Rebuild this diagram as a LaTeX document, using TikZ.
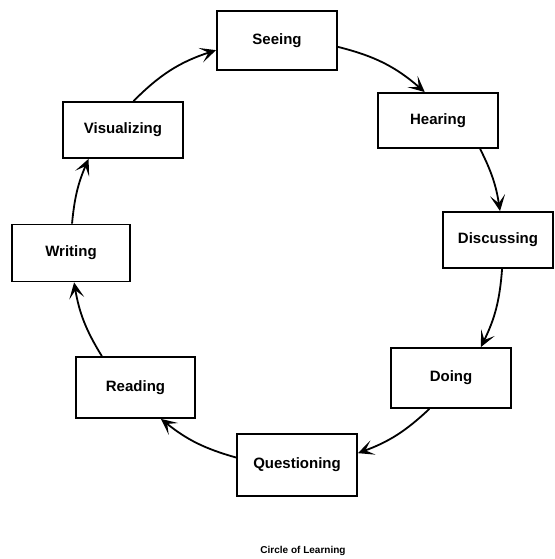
\documentclass[tikz,border=0pt]{standalone}
\usepackage{fontspec}
\setmainfont{Liberation Sans}
\usetikzlibrary{arrows.meta}
\begin{document}
\begin{tikzpicture}[x=1pt,y=1pt,
  box/.style={draw, line width=1.8pt, inner sep=0pt, minimum width=120pt, minimum height=58pt,
    font=\fontsize{15}{18}\selectfont\bfseries},
  arr/.style={line width=1.8pt, -{Stealth[length=16pt,width=15pt,inset=8pt]}},
  captiontext/.style={font=\fontsize{10}{12}\selectfont\bfseries}]
\useasboundingbox (0,0) rectangle (554,559);
\node[box, minimum height=59pt] (S) at (277,518.5) {Seeing};
\node[box, minimum height=55pt] (H) at (438,438.5) {Hearing};
\node[box, minimum width=110pt, minimum height=56pt] (Di) at (498,319) {Discussing};
\node[box, minimum height=60pt] (Do) at (451,181) {Doing};
\node[box, minimum height=62pt] (Q) at (297,94) {Questioning};
\node[box, minimum width=119pt, minimum height=61pt] (R) at (135.5,171.5) {Reading};
\node[box, minimum width=118pt, minimum height=57pt] (W) at (71,306) {Writing};
\node[box, minimum height=56pt] (V) at (123,429) {Visualizing};
\node[captiontext] (C) at (303,8) {Circle of Learning};
\draw[arr] (S.-6) to[bend left=13.5] (H.115);
\draw[arr] (H.-34.5) to[bend left=9] (Di.86);
\draw[arr] (Di.-82) to[bend left=11] (Do.46);
\draw[arr] (Do.235) to[bend left=11.5] (Q.11);
\draw[arr] (Q.173) to[bend left=11.5] (R.-51);
\draw[arr] (R.137) to[bend left=11] (W.-84);
\draw[arr] (W.88) to[bend left=9] (V.220);
\draw[arr] (V.70) to[bend left=13.5] (S.189);
\end{tikzpicture}
\end{document}
